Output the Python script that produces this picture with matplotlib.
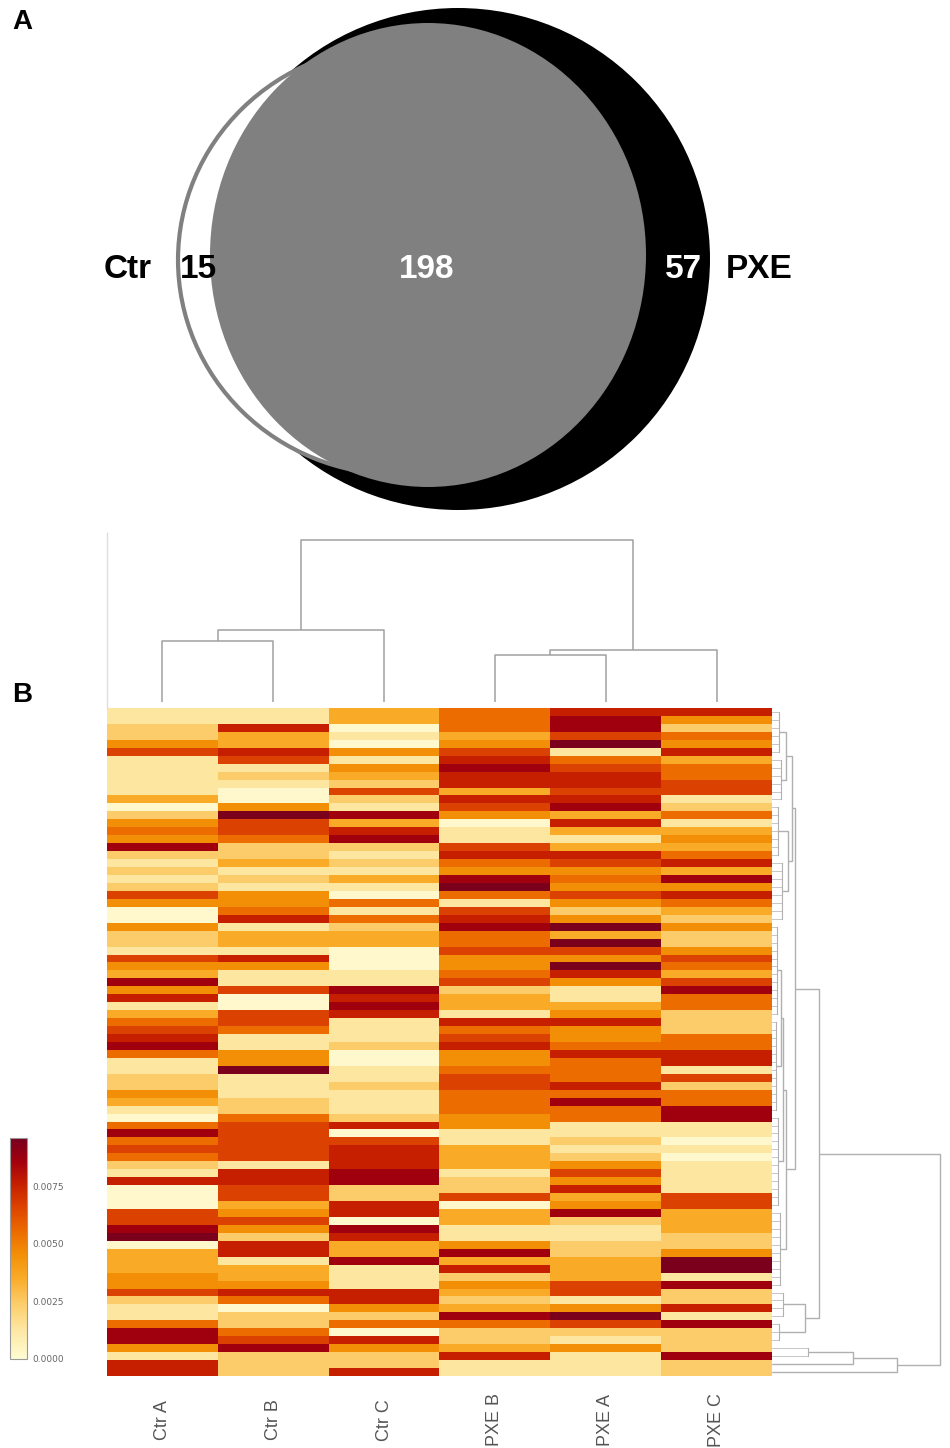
import matplotlib
matplotlib.use('Agg')
import matplotlib.pyplot as plt
import matplotlib.transforms as mtransforms
import numpy as np
from matplotlib.patches import Ellipse
from matplotlib.colors import LinearSegmentedColormap

W, H = 950, 1448

# ---- Venn (panel A) ----
venn_counts = {'ctr_only': 15, 'both': 198, 'pxe_only': 57}
set_names = ['Ctr', 'PXE']

# ---- heatmap (panel B), values x1e-4, rows top -> bottom ----
col_labels = ['Ctr A', 'Ctr B', 'Ctr C', 'PXE B', 'PXE A', 'PXE C']

ctr_a = [13, 13, 24, 24, 45, 66, 13, 13, 13, 13, 13, 35, 2, 24, 45, 55, 45, 86, 24, 13,
         24, 13, 24, 66, 45, 2, 2, 45, 24,
         24, 13, 66, 45, 35, 86, 45, 76, 13, 35, 55, 66, 76, 86, 55, 13, 13, 24, 24, 45,
         35, 13, 2, 55, 86, 55, 66,
         55, 24, 13, 76, 2, 2, 2, 66, 66, 86, 95, 2, 35, 35, 35, 45, 45, 66, 24, 13,
         13, 55, 86, 86, 45, 13, 76, 76]
ctr_b = [13, 13, 76, 35, 35, 76, 66, 13, 24, 13, 2, 2, 45, 95, 66, 66, 55, 24, 24, 35,
         13, 24, 13, 45, 45, 55, 76, 13, 35,
         35, 13, 76, 45, 13, 13, 66, 2, 2, 66, 66, 55, 13, 13, 45, 45, 95, 13, 13, 13,
         24, 24, 55, 66, 66, 66, 66,
         66, 13, 76, 76, 66, 66, 35, 45, 66, 45, 24, 76, 76, 13, 35, 35, 45, 76, 55, 2,
         24, 24, 55, 66, 86, 24, 24, 24]
ctr_c = [35, 35, 2, 13, 2, 45, 13, 45, 35, 24, 66, 24, 13, 86, 35, 76, 86, 24, 13, 24,
         13, 35, 13, 2, 55, 13, 55, 24, 35,
         35, 2, 2, 2, 13, 13, 86, 76, 86, 76, 13, 13, 13, 24, 2, 2, 13, 13, 24, 13,
         13, 13, 24, 76, 2, 66, 76,
         76, 76, 86, 86, 24, 24, 76, 76, 2, 86, 76, 35, 35, 86, 13, 13, 13, 76, 76, 45,
         24, 55, 2, 76, 45, 24, 24, 76]
pxe_b = [55, 55, 55, 35, 45, 66, 76, 86, 76, 76, 35, 76, 66, 45, 2, 13, 13, 66, 76, 55,
         45, 86, 95, 55, 13, 66, 76, 86, 55,
         55, 66, 45, 45, 55, 66, 24, 35, 35, 13, 76, 55, 66, 76, 45, 45, 55, 66, 66, 55,
         55, 55, 45, 45, 13, 13, 35,
         35, 35, 13, 24, 24, 66, 2, 35, 35, 13, 13, 45, 86, 35, 76, 24, 45, 35, 24, 35,
         86, 55, 24, 24, 35, 76, 13, 13]
pxe_a = [76, 86, 86, 66, 95, 13, 55, 66, 76, 76, 66, 76, 86, 35, 76, 35, 13, 35, 76, 66,
         45, 55, 45, 66, 45, 24, 45, 95, 35,
         95, 66, 45, 95, 76, 45, 13, 13, 35, 45, 76, 45, 45, 55, 76, 55, 55, 55, 76, 55,
         86, 55, 55, 13, 13, 24, 13,
         24, 45, 66, 45, 76, 35, 45, 86, 24, 13, 13, 24, 24, 35, 35, 35, 66, 66, 13, 45,
         95, 66, 24, 13, 45, 13, 13, 13]
pxe_c = [76, 45, 24, 55, 45, 76, 35, 55, 55, 66, 66, 13, 24, 55, 13, 35, 45, 35, 55, 76,
         35, 86, 45, 76, 55, 35, 24, 45, 24,
         24, 45, 66, 55, 35, 66, 86, 55, 55, 24, 24, 24, 55, 55, 76, 76, 13, 66, 24, 55,
         55, 86, 86, 13, 13, 2, 13,
         2, 13, 13, 13, 13, 66, 66, 35, 35, 35, 24, 24, 45, 95, 95, 13, 86, 24, 24, 76,
         13, 86, 24, 24, 24, 86, 24, 24]

# column dendrogram: (child, child, height); leaves 0-5, new ids from 6
col_merges = [(0, 1, 0.61), (6, 2, 0.72), (3, 4, 0.47), (8, 5, 0.52), (7, 9, 1.62)]

# row dendrogram: leaf groups (first row, last row, height), then merges (ids from 13)
row_groups = [(0, 5, 7), (6, 11, 9), (12, 18, 6), (19, 26, 10),
              (27, 38, 5), (39, 50, 4), (51, 62, 6), (63, 72, 8),
              (73, 76, 11), (77, 79, 7), (80, 81, 36), (82, 82, 0), (83, 83, 0)]
row_merges = [(0, 1, 14), (2, 3, 16), (13, 14, 20), (4, 5, 9), (16, 6, 11),
              (17, 7, 14), (15, 18, 23), (8, 9, 33), (19, 20, 47), (10, 11, 81),
              (22, 12, 125), (21, 23, 168)]

cbar_ticks = [0.0, 0.0025, 0.005, 0.0075]
vmax = 0.0096

cmap = LinearSegmentedColormap.from_list('heat', [
    (0.0, '#fffcd4'), (0.135, '#fde6a0'), (0.25, '#fccd6a'), (0.365, '#f9ab28'),
    (0.47, '#f39008'), (0.575, '#ec6c00'), (0.69, '#dc4200'), (0.79, '#c62000'),
    (0.895, '#a2000e'), (1.0, '#78001e')])

fig = plt.figure(figsize=(W / 100, H / 100), dpi=100)


def px_axes(x0, y0, x1, y1):
    return fig.add_axes([x0 / W, 1 - y1 / H, (x1 - x0) / W, (y1 - y0) / H])


def draw_links(ax, nodes, merges, color, lw, horizontal):
    nodes = list(nodes)
    for a, b, h in merges:
        pa, ha = nodes[a]
        pb, hb = nodes[b]
        p = [pa, pa, pb, pb]
        q = [ha, h, h, hb]
        if horizontal:
            ax.plot(q, p, color=color, lw=lw, solid_capstyle='butt')
        else:
            ax.plot(p, q, color=color, lw=lw, solid_capstyle='butt')
        nodes.append(((pa + pb) / 2, h))


# ---- Panel A: Venn ----
ax = px_axes(0, 0, W, 520)
ax.set_xlim(0, W)
ax.set_ylim(520, 0)
ax.axis('off')
ax.add_patch(Ellipse((458, 259), 504, 502, facecolor='black', edgecolor='none'))
ax.add_patch(Ellipse((398, 260), 440, 429, facecolor='white', edgecolor='#808080', lw=3))
ax.add_patch(Ellipse((428, 255), 436, 464, facecolor='#808080', edgecolor='none'))

venn_font = ['Liberation Sans Narrow', 'Liberation Sans', 'DejaVu Sans']
tkw = dict(fontsize=24, fontweight='bold', ha='center', va='center', family=venn_font)
ax.text(128, 270, set_names[0], color='black', **tkw)
ax.text(198, 270, str(venn_counts['ctr_only']), color='black', **tkw)
ax.text(427, 270, str(venn_counts['both']), color='white', **tkw)
ax.text(684, 270, str(venn_counts['pxe_only']), color='white', **tkw)
ax.text(759, 270, set_names[1], color='black', **tkw)

fig.text(22 / W, 1 - 22 / H, 'A', fontsize=20, fontweight='bold', ha='center', va='center',
         family=['Liberation Sans', 'DejaVu Sans'])
fig.text(22 / W, 1 - 695 / H, 'B', fontsize=20, fontweight='bold', ha='center', va='center',
         family=['Liberation Sans', 'DejaVu Sans'])

# ---- Panel B: heatmap ----
cols = [ctr_a, ctr_b, ctr_c, pxe_b, pxe_a, pxe_c]
data = np.array(cols, dtype=float).T * 1e-4
n_rows, n_cols = data.shape

axh = px_axes(107, 708, 772, 1376)
im = axh.imshow(data, aspect='auto', cmap=cmap, vmin=0, vmax=vmax,
                interpolation='nearest', extent=(0, n_cols, n_rows, 0))
for s in axh.spines.values():
    s.set_visible(False)
axh.set_yticks([])
axh.set_xticks([])

# column labels, centred vertically below the heatmap
lab_tr = mtransforms.blended_transform_factory(axh.transData, fig.transFigure)
for i, lab in enumerate(col_labels):
    axh.text(i + 0.5, 1 - 1420 / H, lab, transform=lab_tr, rotation=90,
             ha='center', va='center', fontsize=13, color='#555555',
             family=['Liberation Sans', 'DejaVu Sans'])

# column dendrogram
axd = px_axes(107, 533, 772, 708)
axd.set_xlim(0, n_cols)
axd.set_ylim(-0.06, 1.69)
axd.set_xticks([])
axd.set_yticks([])
for k in ['top', 'right', 'bottom']:
    axd.spines[k].set_visible(False)
axd.spines['left'].set_color('#dddddd')
axd.spines['left'].set_linewidth(1)
draw_links(axd, [(i + 0.5, 0.0) for i in range(n_cols)], col_merges, '#a0a0a0', 1.1, False)

# row dendrogram
axr = px_axes(772, 708, 950, 1376)
axr.set_xlim(0, 178)
axr.set_ylim(n_rows, 0)
axr.axis('off')
row_nodes = []
for r0, r1, h in row_groups:
    centers = np.arange(r0, r1 + 1) + 0.5
    for c in centers:
        axr.plot([0, max(h, 4)], [c, c], color='#bdbdbd', lw=0.6)
    if h > 0:
        axr.plot([h, h], [centers[0], centers[-1]], color='#b0b0b0', lw=0.8)
    row_nodes.append((centers.mean(), float(h)))
draw_links(axr, row_nodes, row_merges, '#b0b0b0', 1.0, True)

# colorbar
cax = px_axes(10, 1138, 27, 1359)
cb = fig.colorbar(im, cax=cax, ticks=cbar_ticks)
cb.ax.set_yticklabels(['%.4f' % t for t in cbar_ticks], fontsize=6.5, color='#666666')
cb.ax.tick_params(length=0, pad=4)
cb.outline.set_edgecolor('#999999')
cb.outline.set_linewidth(0.8)

fig.savefig('out.png', dpi=100)
